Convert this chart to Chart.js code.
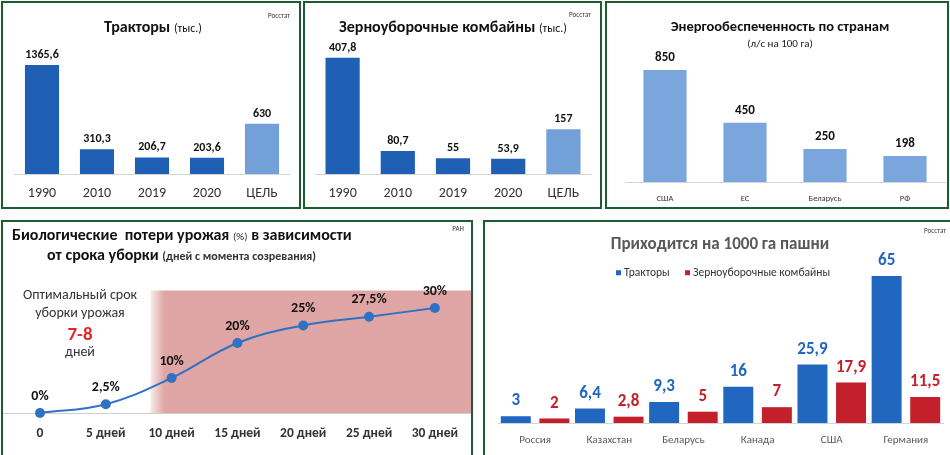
<!DOCTYPE html>
<html><head><meta charset="utf-8">
<script src="https://cdn.jsdelivr.net/npm/chart.js@4.4.0/dist/chart.umd.min.js"></script>
<style>
html,body{margin:0;padding:0;background:#fff;width:950px;height:455px;overflow:hidden;font-family:Carlito,Lato,'Open Sans',sans-serif;}
.panel{position:absolute;box-sizing:border-box;border:2px solid #1d5c30;background:#fff;overflow:hidden;}
.panel canvas{position:absolute;left:0;top:0;}
.t{position:absolute;white-space:nowrap;color:#111;line-height:1;}
.c{transform:translate(-50%,-50%);}
.l{transform:translateY(-50%);}
.src{font-size:7px;color:#333;}
</style></head><body>

<div class="panel" style="left:1px;top:1px;width:300px;height:208px;">
  <canvas id="c1" width="296" height="204"></canvas>
  <div class="t c" style="left:150px;top:24px;"><b style="font-size:16px">Тракторы</b> <span style="font-size:12px">(тыс.)</span></div>
  <div class="t c src" style="left:276px;top:12px;">Росстат</div>
</div>

<div class="panel" style="left:303px;top:1px;width:299px;height:208px;">
  <canvas id="c2" width="295" height="204"></canvas>
  <div class="t c" style="left:148px;top:24px;"><b style="font-size:16px">Зерноуборочные комбайны</b> <span style="font-size:12px">(тыс.)</span></div>
  <div class="t c src" style="left:275px;top:11px;">Росстат</div>
</div>

<div class="panel" style="left:605px;top:1px;width:344px;height:208px;">
  <canvas id="c3" width="340" height="204"></canvas>
  <div class="t c" style="left:173px;top:23px;"><b style="font-size:14.5px">Энергообеспеченность по странам</b></div>
  <div class="t c" style="left:173px;top:40px;font-size:11px;color:#222;">(л/с на 100 га)</div>
</div>

<div class="panel" style="left:1px;top:220px;width:472px;height:240px;">
  <canvas id="c4" width="468" height="233"></canvas>
  <div class="t l" style="left:9px;top:13px;"><b style="font-size:16px">Биологические&nbsp; потери урожая</b> <span style="font-size:11px;color:#333">(%)</span> <b style="font-size:16px">в зависимости</b></div>
  <div class="t l" style="left:44px;top:33px;"><b style="font-size:16px">от срока уборки</b> <span style="font-size:12px;color:#333;font-weight:600">(дней с момента созревания)</span></div>
  <div class="t c src" style="left:455px;top:6px;">РАН</div>
  <div class="t c" style="left:77px;top:73px;font-size:14px;color:#333;">Оптимальный срок</div>
  <div class="t c" style="left:77px;top:91px;font-size:14px;color:#333;">уборки урожая</div>
  <div class="t c" style="left:77px;top:111px;font-size:19px;color:#e3262a;font-weight:bold;">7-8</div>
  <div class="t c" style="left:77px;top:130px;font-size:14px;color:#333;">дней</div>
</div>

<div class="panel" style="left:483px;top:220px;width:470px;height:240px;">
  <canvas id="c5" width="466" height="233"></canvas>
  <div class="t c" style="left:235px;top:21px;font-size:17px;font-weight:bold;color:#595959;">Приходится на 1000 га пашни</div>
  <div class="t l" style="left:131px;top:51px;font-size:11.5px;color:#333;"><span style="display:inline-block;width:5px;height:5px;background:#2166bf;margin-right:3px;vertical-align:1px"></span>Тракторы</div>
  <div class="t l" style="left:200px;top:51px;font-size:11.5px;color:#333;"><span style="display:inline-block;width:5px;height:5px;background:#c3202b;margin-right:3px;vertical-align:1px"></span>Зерноуборочные комбайны</div>
  <div class="t c src" style="left:450px;top:8px;">Росстат</div>
</div>

<script>
// ---------- DATA ----------
const tractorYears = ['1990', '2010', '2019', '2020', 'ЦЕЛЬ'];
const tractorValues = [1365.6, 310.3, 206.7, 203.6, 630];

const combineYears = ['1990', '2010', '2019', '2020', 'ЦЕЛЬ'];
const combineValues = [407.8, 80.7, 55, 53.9, 157];

const energyCountries = ['США', 'ЕС', 'Беларусь', 'РФ'];
const energyValues = [850, 450, 250, 198];

const lossDays = [0, 5, 10, 15, 20, 25, 30];
const lossPercent = [0, 2.5, 10, 20, 25, 27.5, 30];
const lossTickLabels = ['0', '5 дней', '10 дней', '15 дней', '20 дней', '25 дней', '30 дней'];
const lateZoneStartDay = 8.4;
const lateZoneTopPercent = 35;

const perHaCountries = ['Россия', 'Казахстан', 'Беларусь', 'Канада', 'США', 'Германия'];
const perHaTractors = [3, 6.4, 9.3, 16, 25.9, 65];
const perHaCombines = [2, 2.8, 5, 7, 17.9, 11.5];
const perHaSeriesNames = ['Тракторы', 'Зерноуборочные комбайны'];

// ---------- STYLE ----------
const FONT = "Carlito, Lato, 'Open Sans', sans-serif";
const DARK = '#1f60b5', LIGHT = '#74a0da', ENERGY = '#7ba5dd';
const BLUE5 = '#2166bf', RED5 = '#c3202b', LINE = '#2f72c4';
Chart.defaults.font.family = FONT;
Chart.defaults.animation = false;
Chart.defaults.responsive = false;
Chart.defaults.plugins.legend.display = false;
Chart.defaults.plugins.tooltip.enabled = false;

const fmt = (v, suf) => String(v).replace('.', ',') + (suf || '');

function labelPlugin(cfg) {
  return {
    id: 'vl',
    afterDatasetsDraw(chart) {
      const ctx = chart.ctx;
      ctx.save();
      ctx.textAlign = 'center';
      ctx.textBaseline = 'middle';
      ctx.font = cfg.font;
      chart.data.datasets.forEach((ds, di) => {
        const meta = chart.getDatasetMeta(di);
        meta.data.forEach((el, i) => {
          const d = ds.data[i];
          const v = (d !== null && typeof d === 'object') ? d.y : d;
          ctx.fillStyle = cfg.colors ? cfg.colors[di] : cfg.color;
          ctx.fillText(fmt(v, cfg.suffix), el.x + (cfg.dx || 0), el.y - cfg.offset);
        });
      });
      ctx.restore();
    }
  };
}

function barAxes(opt) {
  return {
    x: {
      grid: {display: false, drawTicks: false},
      border: {display: true, color: '#d4d4d4', width: 1},
      ticks: {padding: opt.pad, color: opt.tickColor || '#333', font: {size: opt.tickSize, weight: opt.tickWeight || 'normal'}},
      afterFit(s) { s.height = opt.h; }
    },
    y: {display: false, min: 0, max: opt.max}
  };
}

// Chart 1: tractors
new Chart(document.getElementById('c1'), {
  type: 'bar',
  data: {labels: tractorYears, datasets: [{data: tractorValues,
    backgroundColor: c => c.index === tractorYears.length - 1 ? LIGHT : DARK,
    barPercentage: 0.62, categoryPercentage: 1}]},
  options: {
    layout: {padding: {left: 11.5, right: 9.5, top: 40, bottom: 0}},
    scales: barAxes({pad: 11, tickSize: 14, h: 33, max: 1641})
  },
  plugins: [labelPlugin({font: 'bold 12px ' + FONT, color: '#111', offset: 10})]
});

// Chart 2: combines
new Chart(document.getElementById('c2'), {
  type: 'bar',
  data: {labels: combineYears, datasets: [{data: combineValues,
    backgroundColor: c => c.index === combineYears.length - 1 ? LIGHT : DARK,
    barPercentage: 0.62, categoryPercentage: 1}]},
  options: {
    layout: {padding: {left: 10, right: 9, top: 40, bottom: 0}},
    scales: barAxes({pad: 11, tickSize: 14, h: 33, max: 460})
  },
  plugins: [labelPlugin({font: 'bold 12px ' + FONT, color: '#111', offset: 10})]
});

// Chart 3: energy
new Chart(document.getElementById('c3'), {
  type: 'bar',
  data: {labels: energyCountries, datasets: [{data: energyValues,
    backgroundColor: ENERGY, barPercentage: 0.54, categoryPercentage: 1}]},
  options: {
    layout: {padding: {left: 18, right: 2, top: 50, bottom: 0}},
    scales: barAxes({pad: 11.8, tickSize: 8.5, h: 25, max: 979})
  },
  plugins: [labelPlugin({font: 'bold 13px ' + FONT, color: '#111', offset: 12})]
});

// Chart 4: losses line
const zonePlugin = {
  id: 'zone',
  beforeDatasetsDraw(chart) {
    const {ctx, scales: {x, y}} = chart;
    const x0 = x.getPixelForValue(lateZoneStartDay);
    const y0 = y.getPixelForValue(lateZoneTopPercent);
    const y1 = y.getPixelForValue(0);
    ctx.save();
    const g = ctx.createLinearGradient(x0, 0, x0 + 14, 0);
    g.addColorStop(0, 'rgba(205,115,113,0.15)');
    g.addColorStop(1, 'rgba(205,115,113,0.64)');
    ctx.fillStyle = g;
    ctx.fillRect(x0, y0, chart.width - x0, y1 - y0);
    ctx.strokeStyle = '#cfcfcf';
    ctx.lineWidth = 1;
    ctx.beginPath();
    ctx.moveTo(0, Math.round(y1) + 0.5);
    ctx.lineTo(chart.width, Math.round(y1) + 0.5);
    ctx.stroke();
    ctx.restore();
  }
};
new Chart(document.getElementById('c4'), {
  type: 'line',
  data: {datasets: [{
    data: lossDays.map((d, i) => ({x: d, y: lossPercent[i]})),
    borderColor: LINE, backgroundColor: LINE, borderWidth: 2,
    pointRadius: 5, pointBackgroundColor: LINE, pointBorderWidth: 0,
    tension: 0.4, fill: false, clip: false
  }]},
  options: {
    layout: {padding: {left: 37, right: 33, top: 68.5, bottom: 0}},
    scales: {
      x: {type: 'linear', min: 0, max: 30,
        grid: {display: false, drawTicks: false}, border: {display: false},
        ticks: {stepSize: 5, padding: 13, color: '#333', font: {size: 13.5, weight: 'bold'},
          callback: v => lossTickLabels[lossDays.indexOf(v)]},
        afterFit(s) { s.height = 42; }},
      y: {display: false, min: 0, max: lateZoneTopPercent}
    }
  },
  plugins: [zonePlugin, labelPlugin({font: 'bold 14px ' + FONT, color: '#111', offset: 17, suffix: '%'})]
});

// Chart 5: per 1000 ha
new Chart(document.getElementById('c5'), {
  type: 'bar',
  data: {labels: perHaCountries, datasets: [
    {label: perHaSeriesNames[0], data: perHaTractors, backgroundColor: BLUE5, barPercentage: 0.777, categoryPercentage: 1.04},
    {label: perHaSeriesNames[1], data: perHaCombines, backgroundColor: RED5, barPercentage: 0.777, categoryPercentage: 1.04}
  ]},
  options: {
    layout: {padding: {left: 13, right: 8, top: 40, bottom: 0}},
    scales: barAxes({pad: 10.5, tickSize: 11, h: 32, max: 71.2, tickColor: '#595959'})
  },
  plugins: [labelPlugin({font: 'bold 17px ' + FONT, colors: [BLUE5, RED5], offset: 15})]
});
</script>
</body></html>
